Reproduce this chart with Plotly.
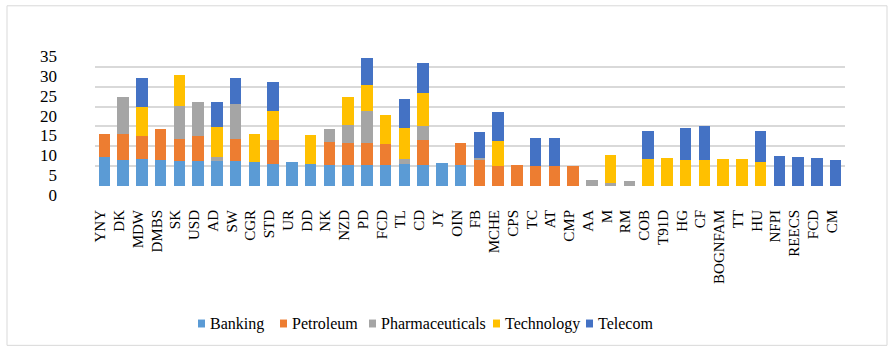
import plotly.graph_objects as go

# Company codes along the x axis (FCD appears twice, so bars are placed by index)
companies = ["YNY", "DK", "MDW", "DMBS", "SK", "USD", "AD", "SW", "CGR", "STD",
             "UR", "DD", "NK", "NZD", "PD", "FCD", "TL", "CD", "JY", "OIN",
             "FB", "MCHE", "CPS", "TC", "AT", "CMP", "AA", "M", "RM", "COB",
             "T91D", "HG", "CF", "BOGNFAM", "TT", "HU", "NFPI", "REECS", "FCD", "CM"]

banking = [7.3, 6.6, 6.8, 6.5, 6.4, 6.2, 6.2, 6.2, 6.0, 5.6,
           6.0, 5.5, 5.4, 5.4, 5.4, 5.4, 5.5, 5.4, 5.8, 5.4,
           0, 0, 0, 0, 0, 0, 0, 0, 0, 0,
           0, 0, 0, 0, 0, 0, 0, 0, 0, 0]
petroleum = [5.7, 6.4, 5.7, 7.9, 5.5, 6.3, 0, 5.7, 0, 6.0,
             0, 0, 5.6, 5.4, 5.4, 5.1, 0, 6.2, 0, 5.4,
             6.5, 5.0, 5.2, 5.0, 5.0, 5.0, 0, 0, 0, 0,
             0, 0, 0, 0, 0, 0, 0, 0, 0, 0]
pharmaceuticals = [0, 9.3, 0, 0, 8.2, 8.7, 1.2, 8.7, 0, 0,
                   0, 0, 3.4, 4.6, 8.1, 0, 1.4, 3.5, 0, 0,
                   0.6, 0, 0, 0, 0, 0, 1.4, 0.8, 1.2, 0,
                   0, 0, 0, 0, 0, 0, 0, 0, 0, 0]
technology = [0, 0, 7.5, 0, 7.9, 0, 7.4, 0, 7.1, 7.4,
              0, 7.4, 0, 7.1, 6.6, 7.4, 7.8, 8.2, 0, 0,
              0, 6.4, 0, 0, 0, 0, 0, 7.1, 0, 6.8,
              7.1, 6.5, 6.5, 6.8, 6.8, 6.0, 0, 0, 0, 0]
telecom = [0, 0, 7.2, 0, 0, 0, 6.3, 6.7, 0, 7.2,
           0, 0, 0, 0, 6.7, 0, 7.3, 7.7, 0, 0,
           6.6, 7.3, 0, 7.2, 7.2, 0, 0, 0, 0, 7.1,
           0, 8.0, 8.5, 0, 0, 7.9, 7.6, 7.3, 7.0, 6.6]

y_ticks = [0, 5, 10, 15, 20, 25, 30, 35]

series = [
    ("Banking", banking, "#5B9BD5"),
    ("Petroleum", petroleum, "#ED7D31"),
    ("Pharmaceuticals", pharmaceuticals, "#A5A5A5"),
    ("Technology", technology, "#FFC000"),
    ("Telecom", telecom, "#4472C4"),
]

SERIF = "Liberation Serif"

positions = list(range(len(companies)))

fig = go.Figure()
for name, values, color in series:
    fig.add_trace(go.Bar(
        name=name,
        x=positions,
        y=values,
        marker=dict(color=color, line=dict(width=0)),
        showlegend=False,
    ))

# Plot-area geometry in pixels, used to place the border and the legend row
W, H = 896, 356
L, R, T, B = 95, 845, 46.5, 186.5
pw, ph = R - L, B - T

def px_x(px):
    return (px - L) / pw

def px_y(py):
    return (B - py) / ph

fig.add_shape(type="rect", xref="paper", yref="paper",
              x0=px_x(7), x1=px_x(887), y0=px_y(347), y1=px_y(5),
              line=dict(color="#D9D9D9", width=1), fillcolor="rgba(0,0,0,0)",
              layer="below")

# Legend row: small colour square followed by the series name
legend_marker_x = [198, 280, 369, 493, 586]
legend_y = 325
for (name, _, color), mx in zip(series, legend_marker_x):
    fig.add_shape(type="rect", xref="paper", yref="paper",
                  x0=px_x(mx), x1=px_x(mx + 7),
                  y0=px_y(legend_y + 4), y1=px_y(legend_y - 4),
                  line=dict(width=0), fillcolor=color)
    fig.add_annotation(xref="paper", yref="paper",
                       x=px_x(mx + 10), y=px_y(legend_y),
                       xanchor="left", yanchor="middle",
                       text=name, showarrow=False,
                       font=dict(size=16, family=SERIF, color="#000000"))

fig.update_layout(
    width=W, height=H,
    margin=dict(l=L, r=W - R, t=T, b=H - B, pad=0),
    barmode="stack",
    bargap=0.38,
    plot_bgcolor="white",
    paper_bgcolor="white",
    font=dict(family=SERIF, color="#000000"),
    showlegend=False,
    xaxis=dict(
        tickmode="array",
        tickvals=positions,
        ticktext=companies,
        tickangle=-90,
        range=[-0.5, len(companies) - 0.5],
        showgrid=False,
        showline=False,
        zeroline=False,
        ticks="",
        tickfont=dict(size=15, family=SERIF, color="#000000"),
        ticklabelstandoff=20,
        ticklabelshift=-4,
    ),
    yaxis=dict(
        range=[0, 35],
        tickmode="array",
        tickvals=y_ticks,
        showgrid=True,
        gridcolor="#D9D9D9",
        gridwidth=1.5,
        zeroline=False,
        showline=False,
        ticks="",
        tickfont=dict(size=17, family=SERIF, color="#000000"),
        ticklabelstandoff=37,
        ticklabelshift=9,
    ),
)

fig.write_html("out.html")
